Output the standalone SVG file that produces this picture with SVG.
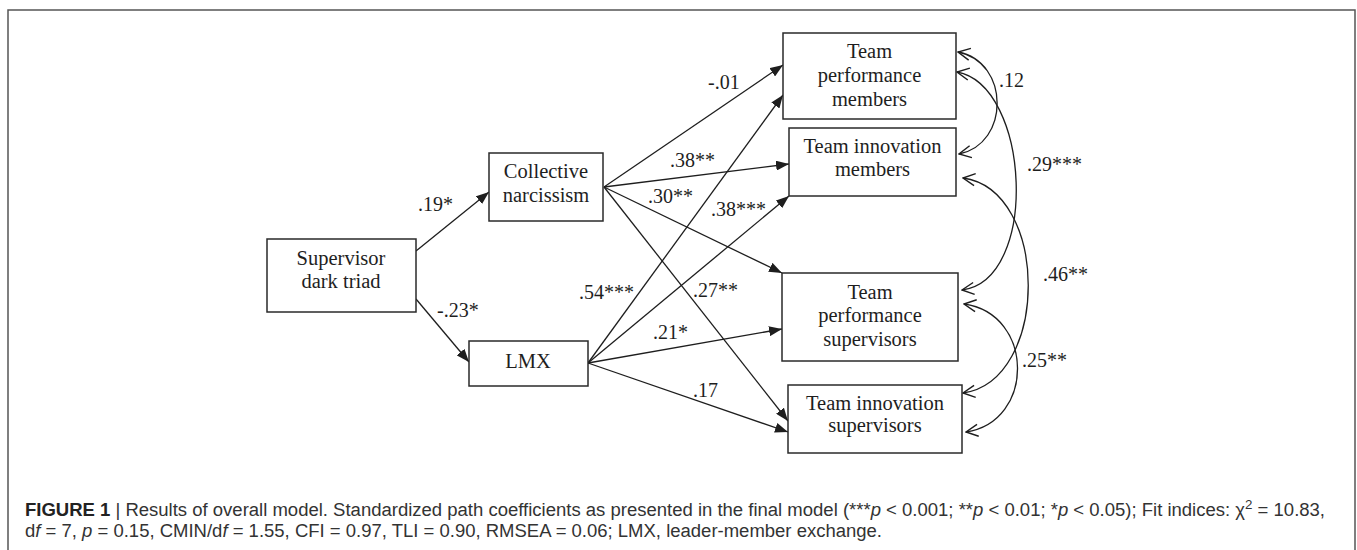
<svg xmlns="http://www.w3.org/2000/svg" width="1357" height="550" viewBox="0 0 1357 550">
<style>
.box{fill:#fff;stroke:#2a2a2a;stroke-width:1.5}
.nt{font-family:"Liberation Serif","Times New Roman",serif;font-size:20.5px;fill:#1e1e1e;text-anchor:middle}
.lb{font-family:"Liberation Serif","Times New Roman",serif;font-size:20px;fill:#1e1e1e}
.ln{stroke:#1e1e1e;stroke-width:1.3;fill:none}
.cap{font-family:"Liberation Sans",Arial,sans-serif;font-size:18px;fill:#333}
</style>
<defs>
<marker id="ah" markerUnits="userSpaceOnUse" viewBox="0 0 13 10" refX="13" refY="5" markerWidth="13" markerHeight="10" orient="auto">
<path d="M0,0 L13,5 L0,10 z" fill="#1e1e1e"/>
</marker>
<marker id="oh" markerUnits="userSpaceOnUse" viewBox="0 0 14 14" refX="13" refY="7" markerWidth="14" markerHeight="14" orient="auto-start-reverse">
<path d="M1,1 L13,7 L1,13" fill="none" stroke="#1e1e1e" stroke-width="1.4"/>
</marker>
</defs>
<rect width="1357" height="550" fill="#fff"/>
<path d="M8,550 V10 H1355 V550" fill="none" stroke="#555" stroke-width="1.5"/>

<g id="connectors">
<line class="ln" x1="416" y1="251" x2="489" y2="192" marker-end="url(#ah)"/>
<line class="ln" x1="416" y1="299" x2="469" y2="362" marker-end="url(#ah)"/>
<line class="ln" x1="604" y1="187" x2="783" y2="65" marker-end="url(#ah)"/>
<line class="ln" x1="604" y1="187" x2="789" y2="164" marker-end="url(#ah)"/>
<line class="ln" x1="604" y1="187" x2="782" y2="273" marker-end="url(#ah)"/>
<line class="ln" x1="604" y1="187" x2="788" y2="421" marker-end="url(#ah)"/>
<line class="ln" x1="588" y1="363" x2="783" y2="95" marker-end="url(#ah)"/>
<line class="ln" x1="588" y1="363" x2="789" y2="196" marker-end="url(#ah)"/>
<line class="ln" x1="588" y1="363" x2="782" y2="329" marker-end="url(#ah)"/>
<line class="ln" x1="588" y1="363" x2="788" y2="432" marker-end="url(#ah)"/>
<path class="ln" d="M958,52 C1010,62 1010,144 959,154" marker-start="url(#oh)" marker-end="url(#oh)"/>
<path class="ln" d="M957,72 C1030,85 1040,280 962,290" marker-start="url(#oh)" marker-end="url(#oh)"/>
<path class="ln" d="M963,178 C1050,190 1050,381 963,393" marker-start="url(#oh)" marker-end="url(#oh)"/>
<path class="ln" d="M964,304 C1035,314 1035,422 966,432" marker-start="url(#oh)" marker-end="url(#oh)"/>
<text class="lb" x="418" y="211">.19*</text>
<text class="lb" x="437" y="317">-.23*</text>
<text class="lb" x="708" y="89">-.01</text>
<text class="lb" x="670" y="167">.38**</text>
<text class="lb" x="648" y="203">.30**</text>
<text class="lb" x="711" y="216">.38***</text>
<text class="lb" x="579" y="299">.54***</text>
<text class="lb" x="693" y="297">.27**</text>
<text class="lb" x="653" y="339">.21*</text>
<text class="lb" x="693" y="397">.17</text>
<text class="lb" x="999" y="87">.12</text>
<text class="lb" x="1027" y="171">.29***</text>
<text class="lb" x="1043" y="281">.46**</text>
<text class="lb" x="1022" y="367">.25**</text>
</g>

<g id="supervisor-dark-triad">
<rect class="box" x="267" y="239" width="149" height="73"/>
<text class="nt" x="341" y="265">Supervisor</text>
<text class="nt" x="341" y="288">dark triad</text>
</g>
<g id="collective-narcissism">
<rect class="box" x="489" y="153" width="114" height="68"/>
<text class="nt" x="546" y="178">Collective</text>
<text class="nt" x="546" y="202">narcissism</text>
</g>
<g id="lmx">
<rect class="box" x="469" y="341" width="119" height="45"/>
<text class="nt" x="528" y="368">LMX</text>
</g>
<g id="team-performance-members">
<rect class="box" x="783" y="33" width="173" height="86"/>
<text class="nt" x="869.5" y="58">Team</text>
<text class="nt" x="869.5" y="82">performance</text>
<text class="nt" x="869.5" y="106">members</text>
</g>
<g id="team-innovation-members">
<rect class="box" x="789" y="128" width="167" height="68"/>
<text class="nt" x="872.5" y="153">Team innovation</text>
<text class="nt" x="872.5" y="176">members</text>
</g>
<g id="team-performance-supervisors">
<rect class="box" x="782" y="273" width="176" height="88"/>
<text class="nt" x="870" y="299">Team</text>
<text class="nt" x="870" y="322">performance</text>
<text class="nt" x="870" y="346">supervisors</text>
</g>
<g id="team-innovation-supervisors">
<rect class="box" x="788" y="385" width="174" height="68"/>
<text class="nt" x="875" y="410">Team innovation</text>
<text class="nt" x="875" y="432">supervisors</text>
</g>

<g id="caption">
<text class="cap" x="25" y="516" textLength="1300" lengthAdjust="spacingAndGlyphs"><tspan font-weight="bold" fill="#222">FIGURE 1</tspan> | Results of overall model. Standardized path coefficients as presented in the final model (***<tspan font-style="italic">p</tspan> &lt; 0.001; **<tspan font-style="italic">p</tspan> &lt; 0.01; *<tspan font-style="italic">p</tspan> &lt; 0.05); Fit indices: χ<tspan dy="-7" font-size="13px">2</tspan><tspan dy="7"> = 10.83,</tspan></text>
<text class="cap" x="25" y="537" textLength="857" lengthAdjust="spacingAndGlyphs">d<tspan font-style="italic">f</tspan> = 7, <tspan font-style="italic">p</tspan> = 0.15, CMIN/d<tspan font-style="italic">f</tspan> = 1.55, CFI = 0.97, TLI = 0.90, RMSEA = 0.06; LMX, leader-member exchange.</text>
</g>
</svg>
